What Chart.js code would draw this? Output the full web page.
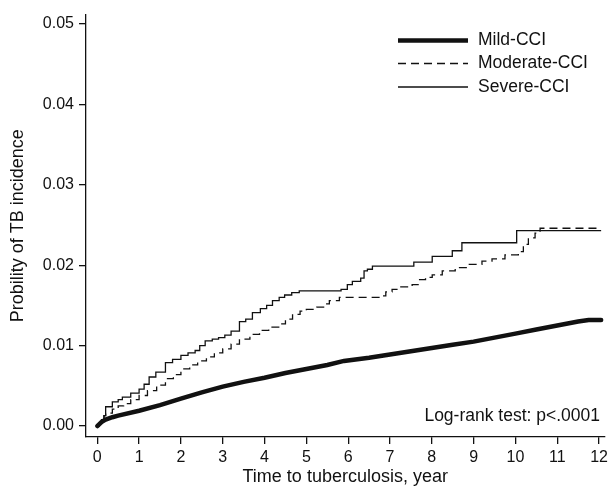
<!DOCTYPE html>
<html>
<head>
<meta charset="utf-8">
<script src="https://cdn.jsdelivr.net/npm/chart.js@4"></script>
<style>
  html, body { margin: 0; padding: 0; background: #fff; }
  canvas { display: block; }
</style>
</head>
<body>
<canvas id="kmChart" width="612" height="496"></canvas>
<script>
// cumulative TB incidence (years, probability)
const mildT = [0, 0.1, 0.2, 0.36, 0.5, 1.0, 1.5, 2.0, 2.5, 3.0, 3.5, 4.0, 4.5, 5.0, 5.5, 5.9, 6.5, 7.0, 7.5, 8.0, 8.5, 9.0, 9.5, 10.0, 10.5, 11.0, 11.5, 11.75, 12.05];
const mildP = [0, 0.0005, 0.0008, 0.0011, 0.0013, 0.0019, 0.0026, 0.0034, 0.0042, 0.0049, 0.0055, 0.0060, 0.0066, 0.0071, 0.0076, 0.0081, 0.0085, 0.0089, 0.0093, 0.0097, 0.0101, 0.0105, 0.0110, 0.0115, 0.0120, 0.0125, 0.0130, 0.0132, 0.0132];

const modT = [0, 0.05, 0.1, 0.16, 0.2, 0.36, 0.5, 0.63, 0.8, 1.0, 1.2, 1.42, 1.63, 1.82, 2.0, 2.21, 2.4, 2.61, 2.8, 3.0, 3.2, 3.4, 3.65, 3.88, 4.1, 4.36, 4.5, 4.67, 4.85, 5.0, 5.25, 5.46, 5.55, 5.79, 6.82, 6.9, 7.05, 7.21, 7.53, 7.69, 7.85, 8.01, 8.25, 8.56, 8.88, 9.2, 9.44, 9.75, 10.07, 10.19, 10.31, 10.47, 10.59, 12.05];
const modP = [0, 0.0004, 0.0008, 0.0013, 0.0016, 0.0021, 0.0025, 0.0028, 0.0033, 0.0038, 0.0044, 0.0051, 0.0059, 0.0064, 0.0071, 0.0076, 0.0081, 0.0086, 0.0091, 0.0096, 0.0102, 0.0108, 0.0114, 0.0119, 0.0123, 0.0127, 0.0133, 0.0139, 0.0143, 0.0145, 0.0148, 0.0152, 0.0156, 0.0160, 0.0162, 0.0167, 0.0170, 0.0173, 0.0176, 0.0182, 0.0185, 0.0188, 0.0193, 0.0197, 0.0201, 0.0205, 0.0208, 0.0213, 0.0217, 0.0226, 0.0234, 0.0240, 0.0246, 0.0246];

const sevT = [0, 0.05, 0.1, 0.16, 0.2, 0.36, 0.5, 0.6, 0.8, 1.0, 1.12, 1.24, 1.4, 1.63, 1.8, 2.0, 2.17, 2.34, 2.45, 2.58, 2.75, 2.9, 3.05, 3.2, 3.4, 3.55, 3.71, 3.9, 4.05, 4.19, 4.35, 4.48, 4.65, 4.83, 5.83, 5.98, 6.1, 6.3, 6.38, 6.46, 6.58, 7.57, 8.01, 8.49, 8.72, 10.03, 12.05];
const sevP = [0, 0.0004, 0.0008, 0.0013, 0.0024, 0.0030, 0.0033, 0.0036, 0.0041, 0.0046, 0.0052, 0.0061, 0.0067, 0.0079, 0.0083, 0.0088, 0.0091, 0.0094, 0.0100, 0.0106, 0.0108, 0.0110, 0.0113, 0.0118, 0.0130, 0.0133, 0.0141, 0.0146, 0.0150, 0.0156, 0.0160, 0.0163, 0.0166, 0.0168, 0.0170, 0.0176, 0.0180, 0.0184, 0.0193, 0.0195, 0.0199, 0.0204, 0.0211, 0.0218, 0.0228, 0.0243, 0.0243];

const xTicks = [0, 1, 2, 3, 4, 5, 6, 7, 8, 9, 10, 11, 12];
const yTicks = [0, 0.01, 0.02, 0.03, 0.04, 0.05];

const ink = '#111';
const fontFamily = "'Liberation Sans', Arial, sans-serif";

function toPoints(ts, ps) {
    return ts.map((t, i) => ({ x: t, y: ps[i] }));
}

// legend in the upper right + log-rank note, drawn from the datasets
const kmNotes = {
    id: 'kmNotes',
    afterDraw(chart) {
        const ctx = chart.ctx;
        const rows = [40.5, 63.5, 87];
        ctx.save();
        chart.data.datasets.forEach((ds, i) => {
            ctx.beginPath();
            ctx.lineWidth = ds.borderWidth;
            ctx.strokeStyle = ds.borderColor;
            ctx.setLineDash(ds.borderDash || []);
            ctx.moveTo(398, rows[i]);
            ctx.lineTo(468, rows[i]);
            ctx.stroke();
            ctx.setLineDash([]);
            ctx.fillStyle = ink;
            ctx.font = '17.5px ' + fontFamily;
            ctx.textAlign = 'left';
            ctx.textBaseline = 'middle';
            ctx.fillText(ds.label, 478, rows[i]);
        });
        ctx.textAlign = 'right';
        ctx.fillText('Log-rank test: p<.0001', 600, 416);
        ctx.restore();
    }
};

const ctx = document.getElementById('kmChart').getContext('2d');
const chart = new Chart(ctx, {
    type: 'line',
    data: {
        datasets: [
            {
                label: 'Mild-CCI',
                data: toPoints(mildT, mildP),
                borderColor: ink,
                borderWidth: 4.5,
                borderCapStyle: 'round',
                tension: 0
            },
            {
                label: 'Moderate-CCI',
                data: toPoints(modT, modP),
                borderColor: ink,
                borderWidth: 1.3,
                borderDash: [8, 5],
                stepped: 'before'
            },
            {
                label: 'Severe-CCI',
                data: toPoints(sevT, sevP),
                borderColor: ink,
                borderWidth: 1.3,
                stepped: 'before'
            }
        ]
    },
    options: {
        responsive: false,
        animation: false,
        events: [],
        layout: { padding: { top: 12, right: 5, left: 0, bottom: 0 } },
        elements: { point: { radius: 0 } },
        plugins: {
            legend: { display: false },
            tooltip: { enabled: false }
        },
        scales: {
            x: {
                type: 'linear',
                min: -0.27,
                max: 12.13,
                afterFit: s => { s.height = 59; },
                afterBuildTicks: s => { s.ticks = xTicks.map(v => ({ value: v })); },
                border: { display: true, color: ink, width: 1.3 },
                grid: { drawOnChartArea: false, drawTicks: true, tickLength: 7, color: ink, lineWidth: 1.3 },
                ticks: { color: ink, padding: 4, maxRotation: 0, font: { family: fontFamily, size: 16 } },
                title: {
                    display: true,
                    text: 'Time to tuberculosis, year',
                    color: ink,
                    padding: { top: 0, bottom: 8 },
                    font: { family: fontFamily, size: 18 }
                }
            },
            y: {
                type: 'linear',
                min: -0.00136,
                max: 0.05117,
                afterFit: s => { s.width = 86; },
                afterBuildTicks: s => { s.ticks = yTicks.map(v => ({ value: v })); },
                border: { display: true, color: ink, width: 1.3 },
                grid: { drawOnChartArea: false, drawTicks: true, tickLength: 7, color: ink, lineWidth: 1.3 },
                ticks: {
                    color: ink,
                    padding: 5,
                    font: { family: fontFamily, size: 16 },
                    callback: v => v.toFixed(2)
                },
                title: {
                    display: true,
                    text: 'Probility of TB incidence',
                    color: ink,
                    padding: { top: 7, bottom: 0 },
                    font: { family: fontFamily, size: 18 }
                }
            }
        }
    },
    plugins: [kmNotes]
});
</script>
</body>
</html>
